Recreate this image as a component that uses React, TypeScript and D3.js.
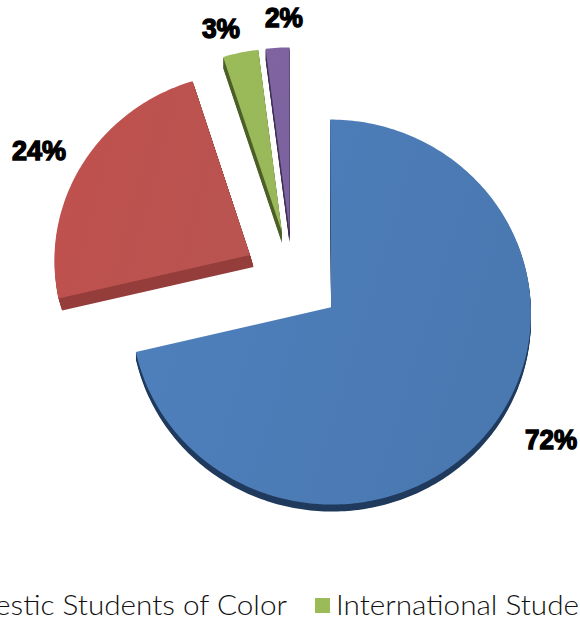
import * as d3 from "d3";

const values = [72, 24, 3, 2];
const faceColors = ["#4f81bd", "#c0504d", "#9bbb59", "#8064a2"];
const faceColorsDark = ["#4a78b1", "#b95450", "#98b85a", "#7d62a0"];
const sideColors = ["#1f3a5c", "#953d3a", "#4c5f27", "#3f3155"];
const percentLabels = ["72%", "24%", "3%", "2%"];
const legendLabels = ["Domestic Students of Color", "International Students"];

const width = 580;
const height = 621;
const cx = 292.5;
const cy = 278;
const radius = 199;
const tilt = 0.96;
const perspective = 0.025;
const explode = 49;

// picked by eye from the page
const sliceRadii = [radius, radius - 3, radius, radius];
const sideDepths = [7, 12, 11, 11];
const sideLean = [0, 0.3, 0, 0];
const labelPos: [number, number][] = [
  [551, 449],
  [39, 160],
  [221, 38],
  [284, 27],
];
const labelWidths = [52, 54, 38, 38];

const arcs = d3.pie<number>().sort(null)(values);
const line = d3.line<[number, number]>();

// pie plane -> page, the far side of the pie shrinks a little
function project(u: number, v: number): [number, number] {
  const s = 1 + (perspective * v) / radius;
  return [cx + u * s, cy + v * tilt * s];
}

function slicePath(d: d3.PieArcDatum<number>, r: number) {
  const mid = (d.startAngle + d.endAngle) / 2;
  const ox = explode * Math.sin(mid);
  const oy = -explode * Math.cos(mid);
  const steps = Math.ceil((d.endAngle - d.startAngle) * 60);
  const angle = d3.scaleLinear().domain([0, steps]).range([d.startAngle, d.endAngle]);
  const pts: [number, number][] = [project(ox, oy)];
  d3.range(steps + 1).forEach((k) => {
    const a = angle(k);
    pts.push(project(ox + r * Math.sin(a), oy - r * Math.cos(a)));
  });
  return line(pts) + "Z";
}

export default function App() {
  return (
    <svg
      width={width}
      height={height}
      style={{ position: "absolute", left: 0, top: 0, background: "#fff" }}
    >
      <defs>
        {arcs.map((d, i) => (
          <linearGradient key={i} id={`face-${i}`} x1="0" y1="0" x2="1" y2="0.3">
            <stop offset="0" stopColor={faceColors[i]} />
            <stop offset="1" stopColor={faceColorsDark[i]} />
          </linearGradient>
        ))}
      </defs>

      {/* sides first, so the top faces cover them */}
      {arcs.map((d, i) => (
        <g key={i}>
          {d3.range(1, sideDepths[i] + 1).map((dy) => (
            <path
              key={dy}
              d={slicePath(d, sliceRadii[i])}
              transform={`translate(${dy * sideLean[i]},${dy})`}
              fill={sideColors[i]}
            />
          ))}
          <path d={slicePath(d, sliceRadii[i])} fill={`url(#face-${i})`} />
        </g>
      ))}

      {arcs.map((d, i) => (
        <text
          key={i}
          x={labelPos[i][0]}
          y={labelPos[i][1]}
          textAnchor="middle"
          textLength={labelWidths[i]}
          lengthAdjust="spacingAndGlyphs"
          fontFamily="'Liberation Sans', sans-serif"
          fontWeight="bold"
          fontSize={27}
          fill="#000"
          stroke="#000"
          strokeWidth={1.4}
        >
          {percentLabels[i]}
        </text>
      ))}

      <g fontFamily="Lato, 'Noto Sans', sans-serif" fontWeight={300} fontSize={27} fill="#111">
        <text transform="translate(287,615) scale(1.1,1)" textAnchor="end">
          {legendLabels[0]}
        </text>
        <rect x={315} y={598} width={15} height={15} fill={faceColors[2]} />
        <text transform="translate(336,615) scale(1.1,1)">{legendLabels[1]}</text>
      </g>
    </svg>
  );
}
